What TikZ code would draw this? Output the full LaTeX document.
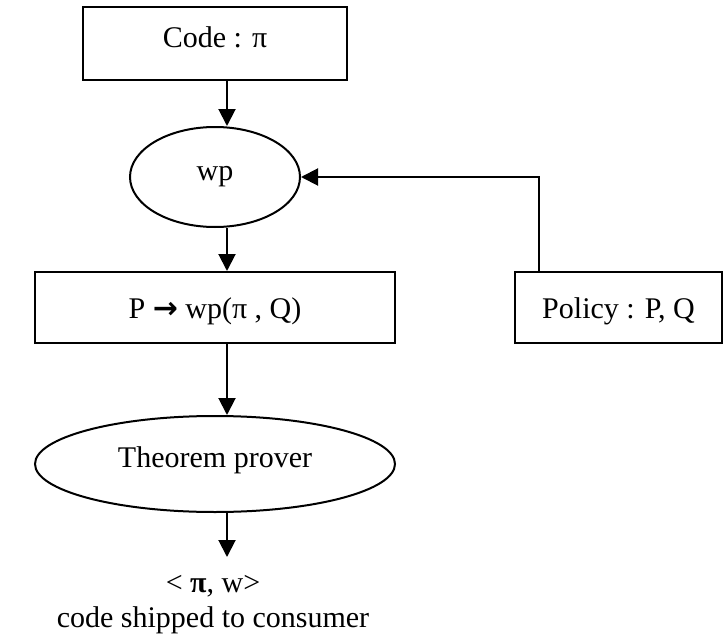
\documentclass[tikz,border=0pt]{standalone}
\usepackage{fontspec}
\setmainfont{Liberation Serif}
\newfontfamily\arrowfont{DejaVu Sans}
\usetikzlibrary{arrows.meta,shapes.geometric}
\begin{document}
\begin{tikzpicture}[x=1pt,y=-1pt,line width=2pt,
  font=\fontsize{30}{35}\selectfont,
  box/.style={draw,rectangle,inner sep=0pt,minimum height=71pt,minimum width=#1},
  oval/.style={draw,ellipse,inner sep=0pt},
  lbl/.style={inner sep=0pt,anchor=base},
  arr/.style={-{Triangle[width=17pt,length=17pt]}}]
\useasboundingbox (0,0) rectangle (723,634);
\coordinate (ax) at (227,0);
\coordinate (bx) at (539,0);
\node[box=264pt,minimum height=73pt,text height=20pt,text depth=11pt] (code) at (215,43.5) {Code : π};
\node[oval,minimum width=170pt,minimum height=100pt] (wp) at (215,177) {wp};
\node[box=360pt,text height=21pt,text depth=0pt] (pq) at (215,307.5) {P {\arrowfont\bfseries →} wp(π , Q)};
\node[box=207pt,text height=21pt,text depth=0pt] (pol) at (618.5,307.5) {Policy : P, Q};
\node[oval,minimum width=360pt,minimum height=96pt,text height=20pt,text depth=14pt] (tp) at (215,464) {Theorem prover};
\node[lbl,text height=34pt] (out) at (213,592) {< {\bfseries π}, w>};
\node[lbl] (ship) at (213,627) {code shipped to consumer};
\draw[arr] (code.south -| ax) -- (wp.north -| ax);
\draw[arr] (wp.south -| ax) -- (pq.north -| ax);
\draw[arr] (pq.south -| ax) -- (tp.north -| ax);
\draw[arr] (tp.south -| ax) -- (out.north -| ax);
\draw[arr] (pol.north -| bx) |- (wp.east);
\end{tikzpicture}
\end{document}
